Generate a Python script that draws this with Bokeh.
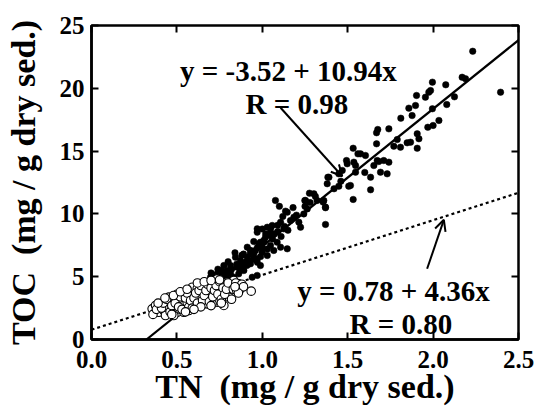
from bokeh.plotting import figure
from bokeh.models import (Range1d, FixedTicker, LinearAxis, Label, Arrow, OpenHead,
                          NumeralTickFormatter)
from bokeh.embed import file_html
from bokeh.resources import INLINE

# ---------------- data ----------------
tn_filled = [
    2.232, 2.395, 2.17, 2.19, 2.074, 2.125, 2.08, 1.996, 1.985, 1.975, 1.955, 1.903,
    1.897, 1.858, 1.877, 1.811, 1.996, 2.034, 2.0, 1.969, 1.907, 1.917, 1.868, 1.848,
    1.907, 1.809, 1.77, 1.79, 1.741, 1.676, 1.669, 1.669, 1.532, 1.575, 1.604, 1.497,
    1.536, 1.711, 1.741, 1.682, 1.56, 1.493, 1.468, 1.546, 1.546, 1.384, 1.38, 1.506,
    1.448, 1.276, 1.311, 1.321, 1.249, 1.356, 1.37, 1.532, 1.263, 1.243, 1.136, 1.185,
    1.165, 1.214, 1.107, 1.058, 1.029, 0.97, 1.37, 1.224, 1.634, 1.634, 1.692, 1.731,
    1.653, 1.673, 1.448, 1.39, 1.516, 1.302, 1.36, 1.146, 1.126, 1.048, 1.009, 0.98,
    1.087, 1.107, 1.146, 0.912, 0.96, 0.999, 1.029, 1.067, 0.97, 0.989, 0.931, 0.902,
    0.843, 0.853, 0.892, 0.862, 0.814, 0.794, 0.775, 0.833, 0.755, 0.716, 0.697, 0.726,
    0.794, 0.941, 0.97, 0.736, 0.872, 0.912, 1.019, 0.97, 1.048, 0.989, 1.048, 0.95,
    0.921, 0.97, 0.882, 0.814, 0.93, 1.0, 1.06, 1.09, 1.12, 1.18, 1.2, 1.25, 1.28,
    0.88, 0.95, 1.02, 1.1, 1.42, 1.46, 1.6, 1.077, 1.253, 1.37,
    0.70, 0.74, 0.78, 0.80, 0.82, 0.85, 0.87, 0.89, 0.91, 0.93, 0.95, 0.97,
    0.99, 1.01, 1.03, 1.05, 1.07, 1.09, 1.11, 0.88, 0.76, 0.84, 1.00, 1.13, 1.15,
]
toc_filled = [
    22.95, 19.69, 20.88, 20.76, 20.28, 19.32, 18.71, 20.49, 19.82, 19.69, 19.29, 19.43,
    18.63, 18.42, 17.83, 17.62, 18.37, 17.44, 17.04, 16.9, 16.38, 15.98, 15.71, 15.66,
    15.23, 15.31, 15.39, 15.92, 16.77, 16.72, 16.46, 15.58, 15.23, 14.78, 14.65, 13.99,
    14.12, 14.25, 14.12, 14.17, 14.78, 14.25, 13.46, 13.85, 13.32, 12.92, 12.4, 12.21,
    12.21, 11.65, 11.39, 11.07, 11.07, 10.94, 10.49, 11.15, 10.4, 10.0, 10.22, 9.74,
    9.47, 9.34, 9.34, 9.08, 8.94, 8.81, 9.16, 8.94, 11.92, 12.92, 13.32, 13.19,
    13.85, 14.25, 13.19, 12.92, 12.26, 11.6, 11.07, 10.14, 8.81, 8.28, 7.75, 7.62,
    7.75, 7.35, 7.22, 7.35, 7.09, 6.95, 6.69, 7.09, 6.42, 5.89, 6.03, 6.15,
    6.55, 5.76, 5.49, 5.23, 5.89, 5.49, 5.89, 4.96, 5.1, 5.1, 4.96, 4.7,
    4.83, 4.96, 5.1, 5.23, 6.29, 6.55, 8.14, 8.54, 8.54, 7.75, 7.48, 6.82,
    6.29, 6.15, 5.89, 5.23, 6.8, 7.3, 8.0, 8.6, 9.8, 10.5, 9.9, 10.6, 10.9,
    6.7, 7.8, 8.4, 10.6, 12.0, 12.6, 13.3, 11.07, 11.07, 10.54,
    5.3, 5.6, 5.2, 6.2, 5.6, 6.0, 5.5, 6.8, 5.9, 7.1, 6.4, 7.3,
    6.6, 7.9, 7.2, 8.9, 8.4, 9.1, 8.2, 6.1, 5.5, 6.9, 8.8, 9.0, 8.7,
]
tn_open = [
    0.355, 0.394, 0.423, 0.375, 0.404, 0.443, 0.472, 0.502, 0.511, 0.463, 0.492, 0.453,
    0.521, 0.54, 0.56, 0.58, 0.599, 0.59, 0.619, 0.628, 0.648, 0.658, 0.677, 0.697,
    0.687, 0.726, 0.736, 0.706, 0.755, 0.775, 0.785, 0.765, 0.794, 0.814, 0.824, 0.804,
    0.833, 0.862, 0.872, 0.775, 0.658, 0.609, 0.57, 0.54, 0.482, 0.433, 0.638, 0.677,
    0.745, 0.706, 0.736, 0.36, 0.38, 0.41, 0.42, 0.44, 0.46, 0.47, 0.49, 0.50, 0.51,
    0.52, 0.53, 0.55, 0.56, 0.57, 0.58, 0.59, 0.60, 0.61, 0.62, 0.63, 0.64, 0.65,
    0.66, 0.67, 0.68, 0.69, 0.70, 0.71, 0.72, 0.73, 0.74, 0.75, 0.76, 0.77, 0.78,
    0.79, 0.80, 0.83, 0.845, 0.85, 0.88, 0.89, 0.935,
    0.39, 0.43, 0.48, 0.52, 0.56, 0.62, 0.66, 0.70, 0.75, 0.64, 0.70, 0.76,
    0.82, 0.47, 0.55, 0.60, 0.86, 0.84,
]
toc_open = [
    2.44, 2.17, 2.31, 2.71, 2.71, 2.57, 2.44, 2.17, 2.44, 2.97, 3.37, 3.37,
    3.11, 2.71, 2.97, 3.5, 3.9, 4.16, 4.04, 3.5, 3.77, 4.3, 4.04, 3.64,
    3.24, 3.37, 2.97, 2.84, 3.5, 3.77, 4.16, 4.43, 4.56, 4.3, 3.77, 3.37,
    4.7, 4.43, 4.04, 2.71, 2.84, 2.84, 2.31, 2.17, 1.91, 1.91, 3.24, 2.84,
    4.04, 4.56, 4.83, 2.0, 2.4, 2.5, 2.9, 3.2, 2.2, 2.7, 2.9, 3.6, 2.6,
    3.4, 2.4, 3.3, 3.7, 2.6, 3.1, 2.5, 3.3, 3.7, 2.9, 3.9, 4.3, 3.1,
    3.5, 3.9, 4.4, 3.0, 4.1, 3.4, 3.9, 4.3, 3.6, 4.6, 3.2, 4.1, 3.6,
    4.0, 4.5, 4.0, 4.5, 3.9, 4.4, 4.2, 3.85,
    2.9, 3.3, 3.5, 3.8, 4.0, 4.5, 4.6, 4.7, 4.75, 2.6, 2.7, 2.9,
    3.2, 2.0, 2.2, 2.4, 3.7, 4.2,
]
fit_filled = {"intercept": -3.52, "slope": 10.94, "R": 0.98}
fit_open = {"intercept": 0.78, "slope": 4.36, "R": 0.80}
x_ticks = [0.0, 0.5, 1.0, 1.5, 2.0, 2.5]
y_ticks = [0, 5, 10, 15, 20, 25]
x_title = "TN \u00a0(mg / g dry sed.)"
y_title = "TOC \u00a0(mg / g dry sed.)"

FONT = "Liberation Serif"

p = figure(width=539, height=413, output_backend="svg", toolbar_location=None,
           x_range=Range1d(0, 2.5), y_range=Range1d(0, 25),
           min_border_left=91, min_border_right=21, min_border_top=25, min_border_bottom=74,
           x_axis_label=x_title, y_axis_label=y_title)
p.grid.visible = False
p.background_fill_color = "white"
p.border_fill_color = "white"
p.outline_line_color = "black"
p.outline_line_width = 2.5

for ax in p.axis:
    ax.axis_line_width = 2.5
    ax.major_tick_line_width = 2
    ax.major_tick_in = 7
    ax.major_tick_out = 0
    ax.minor_tick_line_color = None
    ax.major_label_text_font = FONT
    ax.major_label_text_font_style = "bold"
    ax.major_label_text_font_size = "25px"
    ax.major_label_text_color = "black"
    ax.axis_label_text_font = FONT
    ax.axis_label_text_font_style = "bold"
    ax.axis_label_text_font_size = "34px"
    ax.axis_label_text_color = "black"

p.xaxis.ticker = FixedTicker(ticks=x_ticks)
p.yaxis.ticker = FixedTicker(ticks=y_ticks)
p.xaxis.formatter = NumeralTickFormatter(format="0.0")
p.yaxis.formatter = NumeralTickFormatter(format="0")
p.xaxis.major_label_standoff = 11
p.xaxis.axis_label_standoff = -3
p.yaxis.major_label_standoff = 7
p.yaxis.axis_label_standoff = 15

# mirror ticks on top and right (no labels)
for loc, ticks in (("above", x_ticks), ("right", y_ticks)):
    ax = LinearAxis(ticker=FixedTicker(ticks=ticks), major_label_text_font_size="1px",
                    major_label_text_color=None, major_label_standoff=0,
                    major_tick_in=7, major_tick_out=0, major_tick_line_width=2,
                    minor_tick_line_color=None, axis_line_color=None)
    p.add_layout(ax, loc)

# regression lines
a1, b1 = fit_filled["intercept"], fit_filled["slope"]
x1 = [-a1 / b1, 2.5]
p.line(x1, [a1 + b1 * v for v in x1], line_color="black", line_width=2.2)
a2, b2 = fit_open["intercept"], fit_open["slope"]
x2 = [0.0, 2.5]
p.line(x2, [a2 + b2 * v for v in x2], line_color="black", line_width=2.2, line_dash="3 3")

# points
p.scatter(tn_filled, toc_filled, size=6.5, fill_color="black", line_color="black", line_width=0.5)
p.scatter(tn_open, toc_open, size=8.5, fill_color="white", line_color="black", line_width=1.1)

# annotations
def lab(x, y, t):
    p.add_layout(Label(x=x, y=y, text=t, text_font=FONT, text_font_style="bold",
                       text_font_size="29px", text_align="center",
                       text_baseline="alphabetic", text_color="black"))

lab(1.153, 21.36, f"y = {a1:.2f} + {b1:.2f}x")
lab(1.203, 18.77, f"R = {fit_filled['R']:.2f}")
lab(1.768, 3.85, f"y = {a2:.2f} + {b2:.2f}x")
lab(1.811, 1.25, f"R = {fit_open['R']:.2f}")

p.add_layout(Arrow(end=OpenHead(size=11, line_width=2, line_color="black"),
                   x_start=1.107, y_start=18.45, x_end=1.468, y_end=13.0,
                   line_width=2, line_color="black"))
p.add_layout(Arrow(end=OpenHead(size=11, line_width=2, line_color="black"),
                   x_start=1.965, y_start=5.63, x_end=2.063, y_end=9.53,
                   line_width=2, line_color="black"))

open("out.html", "w").write(file_html(p, INLINE))
